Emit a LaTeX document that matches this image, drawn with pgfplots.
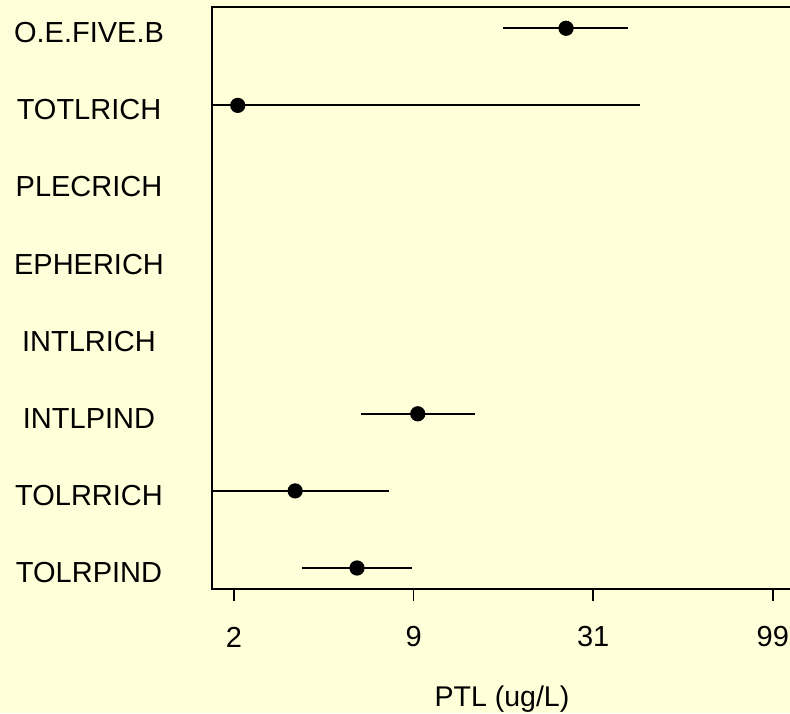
\documentclass[border=0pt]{standalone}
\usepackage{pgfplots}
\pgfplotsset{compat=1.18}
\usepackage{pgfplotstable}
\usepackage{fontspec}
\setmainfont{Liberation Sans}
\definecolor{panel}{RGB}{255,255,218}

% PTL (ug/L): estimate with lower and upper limits, one line per metric row
\pgfplotstableread{
row est   lo    hi
8   25.57 16.77 38.61
7   2.24  1.00  41.69
3   9.27  6.12  13.83
2   3.68  1.00  7.54
1   5.96  3.90  8.88
}\ptl

\begin{document}
\begin{tikzpicture}
% page frame: the plot box starts 212pt from the left and 124pt from the bottom
\path[use as bounding box] (-212pt,-124pt) rectangle (578pt,589pt);
\clip (-212pt,-124pt) rectangle (578pt,589pt);
\fill[panel] (-212pt,-124pt) rectangle (578pt,589pt);
\begin{axis}[
  at={(0pt,0pt)}, anchor=south west,
  scale only axis, width=583pt, height=582pt,
  xmin=0.4388, xmax=2.0618, ymin=0.7276, ymax=8.276,
  axis line style={line width=1.8pt, black},
  xtick={0.5,1,1.5,2}, xticklabels={2,9,31,99},
  xtick pos=bottom, tick align=outside, major tick length=12pt,
  xtick style={line width=1.8pt, black},
  ytick={1,...,8},
  yticklabels={TOLRPIND,TOLRRICH,INTLPIND,INTLRICH,EPHERICH,PLECRICH,TOTLRICH,O.E.FIVE.B},
  ytick style={draw=none},
  /pgf/number format/assume math mode=true,
  tick label style={font=\fontsize{29}{34}\selectfont},
  yticklabel style={anchor=center, xshift=-111pt, yshift=-4.5pt},
  xticklabel style={anchor=center, yshift=-36pt},
  xlabel={PTL (ug/L)},
  xlabel style={font=\fontsize{28.5}{34}\selectfont, at={(axis description cs:0.4974,-0.1899)}, anchor=center},
]
\addplot[only marks, mark=*, mark size=6.8pt, black, line width=1.6pt,
  error bars/.cd, x dir=both, x explicit, error mark=none,
  error bar style={line width=1.8pt, black}]
  table[x expr={log10(\thisrow{est}+1)}, y=row,
        x error plus expr={log10(\thisrow{hi}+1)-log10(\thisrow{est}+1)},
        x error minus expr={log10(\thisrow{est}+1)-log10(\thisrow{lo}+1)}] {\ptl};
\end{axis}
\end{tikzpicture}
\end{document}
